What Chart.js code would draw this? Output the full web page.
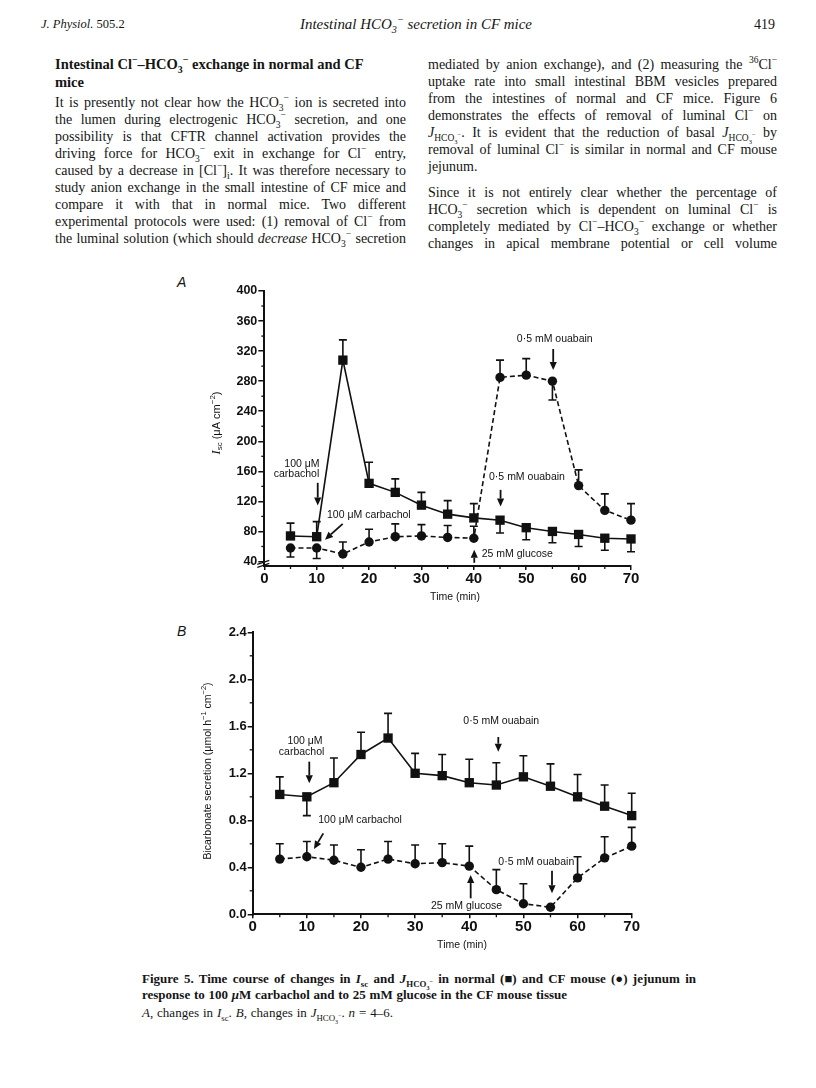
<!DOCTYPE html>
<html><head><meta charset="utf-8">
<script src="https://cdn.jsdelivr.net/npm/chart.js@4.4.1/dist/chart.umd.min.js"></script>
<style>
html,body{margin:0;padding:0;background:#fff;}
body{width:816px;height:1088px;position:relative;overflow:hidden;font-family:"Liberation Serif","DejaVu Serif",serif;color:#151515;}
.ln{position:absolute;white-space:nowrap;font-size:14px;line-height:17px;height:17px;}
.ln .in{display:inline-block;transform-origin:0 50%;}
.b{font-weight:bold;}
.it{font-style:italic;}
sub,sup{font-size:68%;line-height:0;}
.sc{font-variant:small-caps;}
canvas{position:absolute;}
.pl{position:absolute;font-family:"Liberation Sans",Arial,sans-serif;font-style:italic;font-size:14px;}
</style>
</head><body>

<div class="ln it" style="left:41px;top:16px;font-size:12.5px" data-w="95"><span class="in">J. Physiol. <span style="font-style:normal">505.2</span></span></div>
<div class="ln it" style="left:300px;top:16px;font-size:15px" data-w="232"><span class="in">Intestinal HCO<sub>3</sub><sup>−</sup> secretion in CF mice</span></div>
<div class="ln" style="left:754px;top:16px;font-size:14px" data-w="21"><span class="in">419</span></div>

<div class="ln b" style="left:55px;top:56px;font-size:14.5px" data-w="322"><span class="in">Intestinal Cl<sup>−</sup>–HCO<sub>3</sub><sup>−</sup> exchange in normal and CF</span></div>
<div class="ln b" style="left:55px;top:74px;font-size:14.5px"><span class="in">mice</span></div>

<div class="ln" style="left:55px;top:94px" data-w="351" data-j="1"><span class="in">It is presently not clear how the HCO<sub>3</sub><sup>−</sup> ion is secreted into</span></div>
<div class="ln" style="left:55px;top:111px" data-w="351" data-j="1"><span class="in">the lumen during electrogenic HCO<sub>3</sub><sup>−</sup> secretion, and one</span></div>
<div class="ln" style="left:55px;top:128px" data-w="351" data-j="1"><span class="in">possibility is that CFTR channel activation provides the</span></div>
<div class="ln" style="left:55px;top:145px" data-w="351" data-j="1"><span class="in">driving force for HCO<sub>3</sub><sup>−</sup> exit in exchange for Cl<sup>−</sup> entry,</span></div>
<div class="ln" style="left:55px;top:162px" data-w="351" data-j="1"><span class="in">caused by a decrease in [Cl<sup>−</sup>]<sub>i</sub>. It was therefore necessary to</span></div>
<div class="ln" style="left:55px;top:179px" data-w="351" data-j="1"><span class="in">study anion exchange in the small intestine of CF mice and</span></div>
<div class="ln" style="left:55px;top:196px" data-w="351" data-j="1"><span class="in">compare it with that in normal mice. Two different</span></div>
<div class="ln" style="left:55px;top:213px" data-w="351" data-j="1"><span class="in">experimental protocols were used: (1) removal of Cl<sup>−</sup> from</span></div>
<div class="ln" style="left:55px;top:230px" data-w="351" data-j="1"><span class="in">the luminal solution (which should <i>decrease</i> HCO<sub>3</sub><sup>−</sup> secretion</span></div>

<div class="ln" style="left:428px;top:56px" data-w="349" data-j="1"><span class="in">mediated by anion exchange), and (2) measuring the <sup>36</sup>Cl<sup>−</sup></span></div>
<div class="ln" style="left:428px;top:73px" data-w="349" data-j="1"><span class="in">uptake rate into small intestinal BBM vesicles prepared</span></div>
<div class="ln" style="left:428px;top:90px" data-w="349" data-j="1"><span class="in">from the intestines of normal and CF mice. Figure 6</span></div>
<div class="ln" style="left:428px;top:107px" data-w="349" data-j="1"><span class="in">demonstrates the effects of removal of luminal Cl<sup>−</sup> on</span></div>
<div class="ln" style="left:428px;top:124px" data-w="349" data-j="1"><span class="in"><i>J</i><sub>HCO<sub>3</sub><sup>−</sup></sub>. It is evident that the reduction of basal <i>J</i><sub>HCO<sub>3</sub><sup>−</sup></sub> by</span></div>
<div class="ln" style="left:428px;top:141px" data-w="349" data-j="1"><span class="in">removal of luminal Cl<sup>−</sup> is similar in normal and CF mouse</span></div>
<div class="ln" style="left:428px;top:158px"><span class="in">jejunum.</span></div>
<div class="ln" style="left:428px;top:184px" data-w="349" data-j="1"><span class="in">Since it is not entirely clear whether the percentage of</span></div>
<div class="ln" style="left:428px;top:201px" data-w="349" data-j="1"><span class="in">HCO<sub>3</sub><sup>−</sup> secretion which is dependent on luminal Cl<sup>−</sup> is</span></div>
<div class="ln" style="left:428px;top:218px" data-w="349" data-j="1"><span class="in">completely mediated by Cl<sup>−</sup>–HCO<sub>3</sub><sup>−</sup> exchange or whether</span></div>
<div class="ln" style="left:428px;top:235px" data-w="349" data-j="1"><span class="in">changes in apical membrane potential or cell volume</span></div>

<div class="pl" style="left:177px;top:274px">A</div>
<div class="pl" style="left:177px;top:623px">B</div>

<canvas id="chartA" width="480" height="330" style="left:170px;top:280px;width:480px;height:330px"></canvas>
<canvas id="chartB" width="480" height="340" style="left:170px;top:620px;width:480px;height:340px"></canvas>

<div class="ln b" style="left:142px;top:970px;font-size:13px" data-w="554" data-j="1"><span class="in">Figure 5. Time course of changes in <i>I</i><sub>sc</sub> and <i>J</i><sub>HCO<sub>3</sub><sup>−</sup></sub> in normal (■) and CF mouse (●) jejunum in</span></div>
<div class="ln b" style="left:142px;top:986px;font-size:13px" data-w="425" data-j="1"><span class="in">response to 100 <i>μ</i>M carbachol and to 25 mM glucose in the CF mouse tissue</span></div>
<div class="ln" style="left:142px;top:1004px;font-size:13px" data-w="251" data-j="1"><span class="in"><i>A</i>, changes in <i>I</i><sub>sc</sub>. <i>B</i>, changes in <i>J</i><sub>HCO<sub>3</sub><sup>−</sup></sub>. <i>n</i> = 4–6.</span></div>

<script>
// ---------- data ----------
const timeMin = [5,10,15,20,25,30,35,40,45,50,55,60,65,70];
const xTickVals = [0,10,20,30,40,50,60,70];
const xMinorVals = [5,15,25,35,45,55,65];
const iscTickVals = [40,80,120,160,200,240,280,320,360,400];
const iscMinorVals = [60,100,140,180,220,260,300,340,380];
const bicTickVals = [0,0.4,0.8,1.2,1.6,2.0,2.4];
const bicMinorVals = [0.2,0.6,1.0,1.4,1.8,2.2];

// Panel A: Isc (uA cm-2)
const iscNormal    = [74,73,308,144,132,115,103,98,95,85,80,76,71,70];
const iscNormalErr = [91,93,335,172,150,132,121,117,78,69,65,60,55,53];
const iscCF        = [58,58,50,66,73,74,72,71,285,288,280,141,108,95];
const iscCFErr     = [46,44,66,83,90,89,88,87,308,310,255,162,130,117];

// Panel B: bicarbonate secretion (umol h-1 cm-2)
const bicNormal    = [1.02,1.00,1.12,1.36,1.50,1.20,1.18,1.12,1.10,1.17,1.09,1.00,0.92,0.84];
const bicNormalErr = [1.17,0.84,1.33,1.55,1.71,1.37,1.36,1.32,1.29,1.35,1.28,1.19,1.10,1.03];
const bicCF        = [0.47,0.49,0.46,0.40,0.47,0.43,0.44,0.41,0.21,0.09,0.06,0.31,0.48,0.58];
const bicCFErr     = [0.60,0.62,0.59,0.55,0.62,0.59,0.60,0.58,0.38,0.26,null,0.49,0.66,0.74];

// ---------- text fitting ----------
document.querySelectorAll('.ln').forEach(el=>{
  const W = parseFloat(el.dataset.w); if(!W) return;
  const inner = el.querySelector('.in');
  const sw = inner.getBoundingClientRect().width;
  if (sw > W) { inner.style.transform = 'scaleX(' + (W/sw) + ')'; }
  else if (el.dataset.j === '1') {
    const n = (inner.textContent.match(/ /g)||[]).length;
    if (n) inner.style.wordSpacing = ((W - sw)/n) + 'px';
  }
});

// ---------- chart helpers ----------
const SANS = '"Liberation Sans", Arial, sans-serif';
const SERIF = '"Liberation Serif", serif';
const INK = '#111';

function toPts(vals){ return timeMin.map((t,i)=>({x:t,y:vals[i]})); }

function drawRich(ctx, parts, cx, cy, rot){
  ctx.save(); ctx.translate(cx,cy); ctx.rotate(rot);
  let total=0;
  parts.forEach(p=>{ ctx.font=p.font; p.w=ctx.measureText(p.t).width; total+=p.w; });
  let x=-total/2; ctx.textBaseline='middle'; ctx.textAlign='left'; ctx.fillStyle=INK;
  parts.forEach(p=>{ ctx.font=p.font; ctx.fillText(p.t,x,p.dy||0); x+=p.w; });
  ctx.restore();
}

function arrow(ctx, x1,y1,x2,y2){
  const ang=Math.atan2(y2-y1,x2-x1), L=8, H=3.6;
  const bx=x2-L*Math.cos(ang), by=y2-L*Math.sin(ang);
  ctx.beginPath(); ctx.moveTo(x1,y1); ctx.lineTo(bx,by); ctx.stroke();
  ctx.beginPath(); ctx.moveTo(x2,y2);
  ctx.lineTo(bx+H*Math.sin(ang), by-H*Math.cos(ang));
  ctx.lineTo(bx-H*Math.sin(ang), by+H*Math.cos(ang));
  ctx.closePath(); ctx.fill();
}

const decorPlugin = {
  id:'decor',
  beforeDatasetsDraw(chart){
    const {ctx, scales:{x,y}} = chart;
    ctx.save(); ctx.strokeStyle=INK; ctx.lineWidth=1.6; ctx.setLineDash([]);
    chart.data.datasets.forEach(ds=>{
      if(!ds.errEnd) return;
      ds.data.forEach((pt,i)=>{
        const e=ds.errEnd[i]; if(e==null) return;
        const px=x.getPixelForValue(pt.x), py=y.getPixelForValue(pt.y), pe=y.getPixelForValue(e);
        ctx.beginPath(); ctx.moveTo(px,py); ctx.lineTo(px,pe);
        ctx.moveTo(px-4,pe); ctx.lineTo(px+4,pe); ctx.stroke();
      });
    });
    ctx.restore();
  },
  afterDraw(chart){
    const o = chart.options.plugins.decor;
    const {ctx, chartArea:ca, scales:{x,y}} = chart;
    ctx.save(); ctx.strokeStyle=INK; ctx.fillStyle=INK; ctx.lineWidth=1.3;
    o.yMinor.forEach(v=>{ const py=y.getPixelForValue(v); ctx.beginPath(); ctx.moveTo(ca.left-3,py); ctx.lineTo(ca.left,py); ctx.stroke(); });
    o.xMinor.forEach(v=>{ const px=x.getPixelForValue(v); ctx.beginPath(); ctx.moveTo(px,ca.bottom); ctx.lineTo(px,ca.bottom+3); ctx.stroke(); });
    if (o.breakAt!=null){
      const py=y.getPixelForValue(o.breakAt);
      ctx.lineWidth=1.1;
      ctx.beginPath(); ctx.moveTo(ca.left-7,py+1); ctx.lineTo(ca.left+5,py-3); ctx.stroke();
      ctx.beginPath(); ctx.moveTo(ca.left-7,py+4); ctx.lineTo(ca.left+5,py); ctx.stroke();
    }
    ctx.lineWidth=1.8;
    o.arrows.forEach(a=>{
      arrow(ctx, x.getPixelForValue(a[0]), y.getPixelForValue(a[1]), x.getPixelForValue(a[2]), y.getPixelForValue(a[3]));
    });
    ctx.font='10.5px '+SANS; ctx.textBaseline='middle';
    o.texts.forEach(t=>{
      ctx.textAlign=t.align; ctx.fillText(t.text, x.getPixelForValue(t.x), y.getPixelForValue(t.y));
    });
    drawRich(ctx, o.yTitle, o.yTitlePos[0], o.yTitlePos[1], -Math.PI/2);
    drawRich(ctx, [{t:'Time (min)', font:'10.5px '+SANS}], o.xTitlePos[0], o.xTitlePos[1], 0);
    ctx.restore();
  }
};

function makeChart(id, cfg){
  const tickFont = {family:SANS, weight:'bold'};
  return new Chart(document.getElementById(id), {
    type:'line',
    data:{ datasets:[
      { data:toPts(cfg.normal), errEnd:cfg.normalErr, borderColor:INK, backgroundColor:INK, borderWidth:1.6,
        pointStyle:'rect', pointRadius:6.6, pointBorderWidth:0, tension:0, fill:false, clip:false },
      { data:toPts(cfg.cf), errEnd:cfg.cfErr, borderColor:INK, backgroundColor:INK, borderWidth:1.6, borderDash:[5,3],
        pointStyle:'circle', pointRadius:4.7, pointBorderWidth:0, tension:0, fill:false, clip:false }
    ]},
    options:{
      responsive:false, animation:false, devicePixelRatio:1,
      layout:{padding:{top:cfg.padTop, right:cfg.padRight, bottom:0, left:0}},
      plugins:{ legend:{display:false}, tooltip:{enabled:false}, decor:cfg.decor },
      scales:{
        x:{ type:'linear', min:0, max:70,
            afterBuildTicks:s=>{ s.ticks = xTickVals.map(v=>({value:v})); },
            afterFit:s=>{ s.height = cfg.xHeight; },
            grid:{ display:true, drawOnChartArea:false, drawTicks:true, tickLength:cfg.xTickLen, color:INK, lineWidth:1.5 },
            border:{ display:true, color:INK, width:2 },
            ticks:{ padding:0, color:INK, font:Object.assign({size:15}, tickFont), maxRotation:0, autoSkip:false } },
        y:{ type:'linear', min:cfg.yMin, max:cfg.yMax,
            afterBuildTicks:s=>{ s.ticks = cfg.yTicks.map(v=>({value:v})); },
            afterFit:s=>{ s.width = cfg.yWidth; },
            grid:{ display:true, drawOnChartArea:false, drawTicks:true, tickLength:cfg.yTickLen, color:INK, lineWidth:1.5 },
            border:{ display:true, color:INK, width:2 },
            ticks:{ padding:1, color:INK, font:Object.assign({size:cfg.yFont}, tickFont), autoSkip:false,
                    callback:cfg.yFmt } }
      }
    },
    plugins:[decorPlugin]
  });
}

makeChart('chartA', {
  normal:iscNormal, normalErr:iscNormalErr, cf:iscCF, cfErr:iscCFErr,
  padTop:11, padRight:19, xHeight:44, yWidth:94.3, xTickLen:4, yTickLen:6, yFont:12.5,
  yMin:34, yMax:400, yTicks:iscTickVals, yFmt:v=>String(v),
  decor:{
    yMinor:iscMinorVals, xMinor:xMinorVals, breakAt:37.5,
    yTitle:[{t:'I',font:'italic 12.5px '+SERIF},{t:'sc',font:'8px '+SANS,dy:3},{t:' (μA cm',font:'11px '+SANS},{t:'−2',font:'8px '+SANS,dy:-4},{t:')',font:'11px '+SANS}],
    yTitlePos:[46.7,143], xTitlePos:[285,317],
    texts:[
      {text:'100 μM', x:7.19, y:170, align:'center'},
      {text:'carbachol', x:6.15, y:156.6, align:'center'},
      {text:'100 μM carbachol', x:11.97, y:102, align:'left'},
      {text:'0·5 mM ouabain', x:42.9, y:152.6, align:'left'},
      {text:'25 mM glucose', x:41.5, y:49.8, align:'left'},
      {text:'0·5 mM ouabain', x:48.2, y:336.5, align:'left'}
    ],
    arrows:[
      [10.2,144.7,10.2,114.5],
      [14.96,90.1,11.58,68.9],
      [45.1,135.3,45.1,113.1],
      [40.08,38.3,40.08,55.6],
      [55.15,322.8,55.15,295]
    ]
  }
});

makeChart('chartB', {
  normal:bicNormal, normalErr:bicNormalErr, cf:bicCF, cfErr:bicCFErr,
  padTop:12.3, padRight:18.3, xHeight:45.7, yWidth:82.7, xTickLen:4, yTickLen:5, yFont:13,
  yMin:0, yMax:2.4, yTicks:bicTickVals, yFmt:v=>Number(v).toFixed(1),
  decor:{
    yMinor:bicMinorVals, xMinor:xMinorVals, breakAt:null,
    yTitle:[{t:'Bicarbonate secretion (μmol h',font:'10.5px '+SANS},{t:'−1',font:'7.5px '+SANS,dy:-4},{t:' cm',font:'10.5px '+SANS},{t:'−2',font:'7.5px '+SANS,dy:-4},{t:')',font:'10.5px '+SANS}],
    yTitlePos:[38,151], xTitlePos:[292,325],
    texts:[
      {text:'100 μM', x:9.66, y:1.475, align:'center'},
      {text:'carbachol', x:9.03, y:1.379, align:'center'},
      {text:'0·5 mM ouabain', x:38.9, y:1.648, align:'left'},
      {text:'100 μM carbachol', x:12.1, y:0.8026, align:'left'},
      {text:'0·5 mM ouabain', x:45.37, y:0.4425, align:'left'},
      {text:'25 mM glucose', x:39.5, y:0.068, align:'center'}
    ],
    arrows:[
      [10.45,1.299,10.45,1.115],
      [45.36,1.509,45.36,1.384],
      [13.04,0.689,11.32,0.556],
      [55.28,0.371,55.28,0.179],
      [40.26,0.136,40.26,0.334]
    ]
  }
});
</script>
</body></html>
